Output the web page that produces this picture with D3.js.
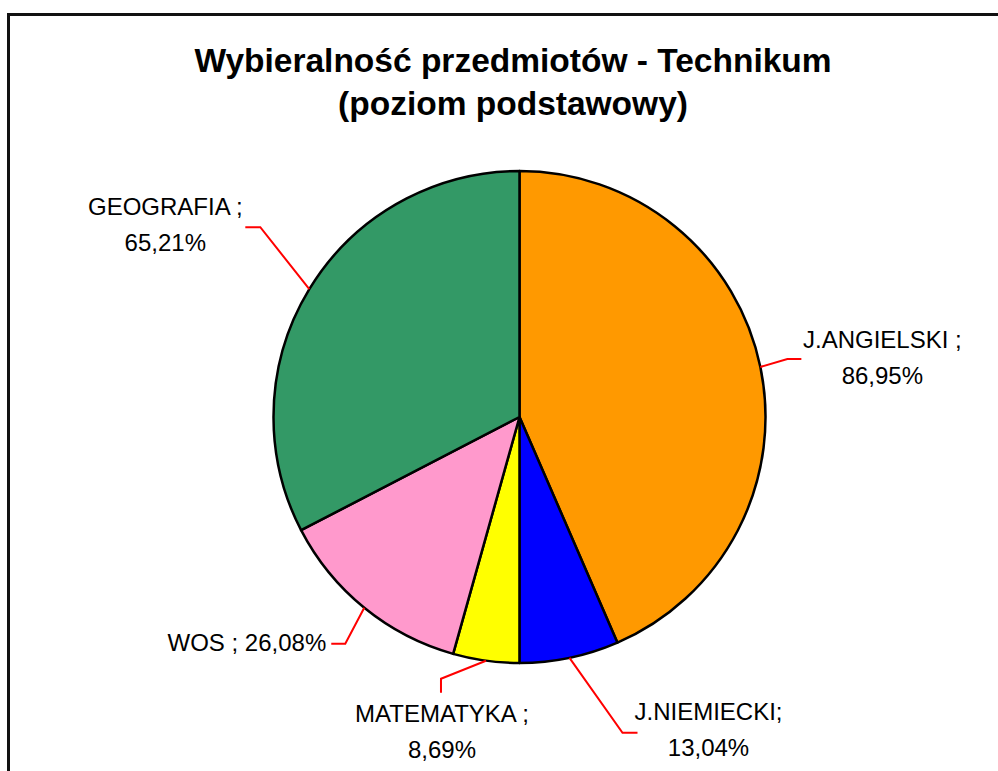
<!DOCTYPE html>
<html>
<head>
<meta charset="utf-8">
<script src="https://cdn.jsdelivr.net/npm/d3@7"></script>
<style>
  html, body { margin: 0; padding: 0; background: #fff; overflow: hidden; }
  svg { display: block; font-family: "Liberation Sans", Arial, sans-serif; }
</style>
</head>
<body>
<div id="pie"></div>
<script>
// dane
const subjects = ['J.ANGIELSKI', 'J.NIEMIECKI', 'MATEMATYKA', 'WOS', 'GEOGRAFIA'];
const shares = [86.95, 13.04, 8.69, 26.08, 65.21];
const labelNames = ['J.ANGIELSKI ;', 'J.NIEMIECKI;', 'MATEMATYKA ;', 'WOS ;', 'GEOGRAFIA ;'];
const colors = ['#FF9900', '#0000FF', '#FFFF00', '#FF99CC', '#339966'];
const titleLines = ['Wybieralność przedmiotów - Technikum', '(poziom podstawowy)'];

const width = 998, height = 771;
const cx = 519.5, cy = 417, radius = 246;

// polozenie etykiet wzgledem punktu na krawedzi kola (elbow, koniec linii, tekst)
const labelLayout = {
  'J.ANGIELSKI': { elbow: [27, -8], end: [41, -8], text: [122, -19], anchor: 'middle', oneLine: false },
  'J.NIEMIECKI': { elbow: [53, 75], end: [68, 75], text: [139, 62], anchor: 'middle', oneLine: false },
  'MATEMATYKA':  { elbow: [-45, 18], end: [-45, 32], text: [-44, 61], anchor: 'middle', oneLine: false },
  'WOS':         { elbow: [-19, 36], end: [-33, 36], text: [-38, 43], anchor: 'end', oneLine: true },
  'GEOGRAFIA':   { elbow: [-49, -62], end: [-64, -62], text: [-144, -74], anchor: 'middle', oneLine: false }
};

const data = subjects.map((s, i) => ({ subject: s, value: shares[i], name: labelNames[i], color: colors[i] }));
const fmt = v => v.toFixed(2).replace('.', ',') + '%';

const svg = d3.select('#pie')
  .append('svg')
    .attr('width', width)
    .attr('height', height);

// ramka
svg.append('rect')
  .attr('x', 8.5)
  .attr('y', 14.5)
  .attr('width', 1100)
  .attr('height', 900)
  .attr('fill', 'none')
  .attr('stroke', '#111')
  .attr('stroke-width', 3);

// tytul
svg.append('text')
  .attr('x', 513)
  .attr('y', 72)
  .attr('text-anchor', 'middle')
  .style('font-size', '33.5px')
  .style('font-weight', 700)
  .selectAll('tspan')
  .data(titleLines)
  .join('tspan')
    .attr('x', 513)
    .attr('dy', (d, i) => i === 0 ? 0 : 43)
    .text(d => d);

const pieGenerator = d3.pie()
  .sort(null)
  .value(d => d.value);

const annotatedData = pieGenerator(data);

const arcGenerator = d3.arc()
  .innerRadius(0)
  .outerRadius(radius);

const edgeArc = d3.arc()
  .innerRadius(radius)
  .outerRadius(radius);

const pieG = svg.append('g')
  .attr('transform', `translate(${cx}, ${cy})`);

pieG.selectAll('path.slice')
  .data(annotatedData)
  .join('path')
    .attr('class', 'slice')
    .attr('d', arcGenerator)
    .attr('fill', d => d.data.color)
    .attr('stroke', '#000')
    .attr('stroke-width', 2.5)
    .attr('stroke-linejoin', 'round');

// linie odniesienia
pieG.selectAll('polyline.leader')
  .data(annotatedData)
  .join('polyline')
    .attr('class', 'leader')
    .attr('points', d => {
      const p = edgeArc.centroid(d);
      const l = labelLayout[d.data.subject];
      return [p, [p[0] + l.elbow[0], p[1] + l.elbow[1]], [p[0] + l.end[0], p[1] + l.end[1]]]
        .map(q => q.join(',')).join(' ');
    })
    .attr('fill', 'none')
    .attr('stroke', '#FF0000')
    .attr('stroke-width', 2);

// etykiety
const labels = pieG.selectAll('text.label')
  .data(annotatedData)
  .join('text')
    .attr('class', 'label')
    .attr('text-anchor', d => labelLayout[d.data.subject].anchor)
    .attr('fill', '#000')
    .style('font-size', '24px');

labels.each(function (d) {
  const p = edgeArc.centroid(d);
  const l = labelLayout[d.data.subject];
  const x = p[0] + l.text[0];
  const y = p[1] + l.text[1];
  const lines = l.oneLine ? [d.data.name + ' ' + fmt(d.data.value)] : [d.data.name, fmt(d.data.value)];
  d3.select(this).selectAll('tspan')
    .data(lines)
    .join('tspan')
      .attr('x', x)
      .attr('y', (t, i) => y + i * 36)
      .text(t => t);
});
</script>
</body>
</html>
